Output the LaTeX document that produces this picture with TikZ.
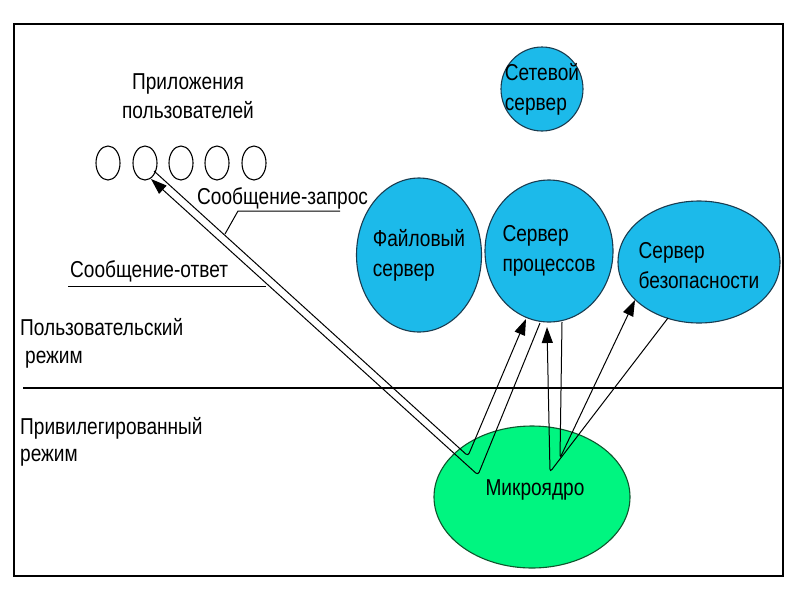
\documentclass[tikz,border=0pt]{standalone}
\usepackage{fontspec}
\setmainfont{Liberation Sans}[FakeStretch=0.83]
\usetikzlibrary{shapes.geometric,arrows.meta}
\definecolor{srvblue}{RGB}{28,186,234}
\definecolor{srvedge}{RGB}{25,60,80}
\definecolor{kgreen}{RGB}{0,245,128}
\definecolor{kedge}{RGB}{15,85,45}
\begin{document}
\begin{tikzpicture}[x=1pt,y=-1pt,
  font=\fontsize{23}{30}\selectfont,
  srvshape/.style={ellipse, draw=srvedge, fill=srvblue, line width=1.1pt, inner sep=0pt},
  kshape/.style={ellipse, draw=kedge, fill=kgreen, line width=1.1pt, inner sep=0pt},
  lbl/.style={align=left, inner sep=0pt},
  txt/.style={anchor=base west, inner sep=0pt},
  app/.style={ellipse, draw, line width=1.1pt, minimum width=24pt, minimum height=34pt, inner sep=0pt},
  msg/.style={-{Triangle[length=16pt,width=11pt]}, line width=1pt, rounded corners=3pt},
  lead/.style={line width=1pt}]
\useasboundingbox (0,0) rectangle (800,600);
\fill[white] (0,0) rectangle (800,600);
\draw[line width=2.4pt] (14,24) rectangle (783,576);

% servers
\node[srvshape, minimum width=82pt, minimum height=84pt] (net) at (542,89) {};
\node[lbl] (nett) at (net.center) {Сетевой\\сервер};
\node[srvshape, minimum width=125pt, minimum height=154pt] (file) at (419,255) {};
\node[lbl] (filet) at (file.center) {Файловый\\сервер};
\node[srvshape, minimum width=128pt, minimum height=142pt] (proc) at (549,251) {};
\node[lbl] (proct) at (proc.center) {Сервер\\процессов};
\node[srvshape, minimum width=162pt, minimum height=122pt] (sec) at (699,262) {};
\node[lbl] (sect) at ([yshift=-4pt]sec.center) {Сервер\\безопасности};
\node[kshape, minimum width=196pt, minimum height=142pt] (kern) at (532,497) {};
\node[lbl] (kernt) at (535,490) {Микроядро};

% user applications
\node[app] (a1) at (108,163) {};
\node[app] (a2) at (145,163) {};
\node[app] (a3) at (181,163) {};
\node[app] (a4) at (217,163) {};
\node[app] (a5) at (254,163) {};
\node[anchor=base, inner sep=0pt] (t1) at (188,89) {Приложения};
\node[anchor=base, inner sep=0pt] (t2) at (188,118) {пользователей};

% mode labels and separator
\draw[line width=2.6pt] (23,388) -- (783,388);
\node[txt] (um1) at (20,335) {Пользовательский};
\node[txt] (um2) at (25,363) {режим};
\node[txt] (pm1) at (20,434) {Привилегированный};
\node[txt] (pm2) at (20,461) {режим};

% message paths
\coordinate (p1s) at (154,171);
\coordinate (p1v) at (468,456);
\coordinate (p1e) at (526,319);
\coordinate (p2s) at (540,323);
\coordinate (p2v) at (478,475);
\coordinate (p2e) at (151,179);
\coordinate (p3s) at (562,322);
\coordinate (p3v) at (560,458);
\coordinate (p3e) at (635,300);
\coordinate (p4s) at (668,318);
\coordinate (p4v) at (550,472);
\coordinate (p4e) at (547,327);
\draw[msg] (p1s) -- (p1v) -- (p1e);
\draw[msg] (p2s) -- (p2v) -- (p2e);
\draw[msg] (p3s) -- (p3v) -- (p3e);
\draw[msg] (p4s) -- (p4v) -- (p4e);

% message labels
\node[txt] (req) at (197,204) {Сообщение-запрос};
\node[txt] (ans) at (70,277) {Сообщение-ответ};
\coordinate (rq1) at (225,234);
\coordinate (rq2) at (238,211);
\coordinate (rq3) at (340,211);
\draw[lead] (rq1) -- (rq2) -- (rq3);
\coordinate (an1) at (68,286);
\coordinate (an2) at (266,286);
\draw[lead] (an1) -- (an2);
\end{tikzpicture}
\end{document}
